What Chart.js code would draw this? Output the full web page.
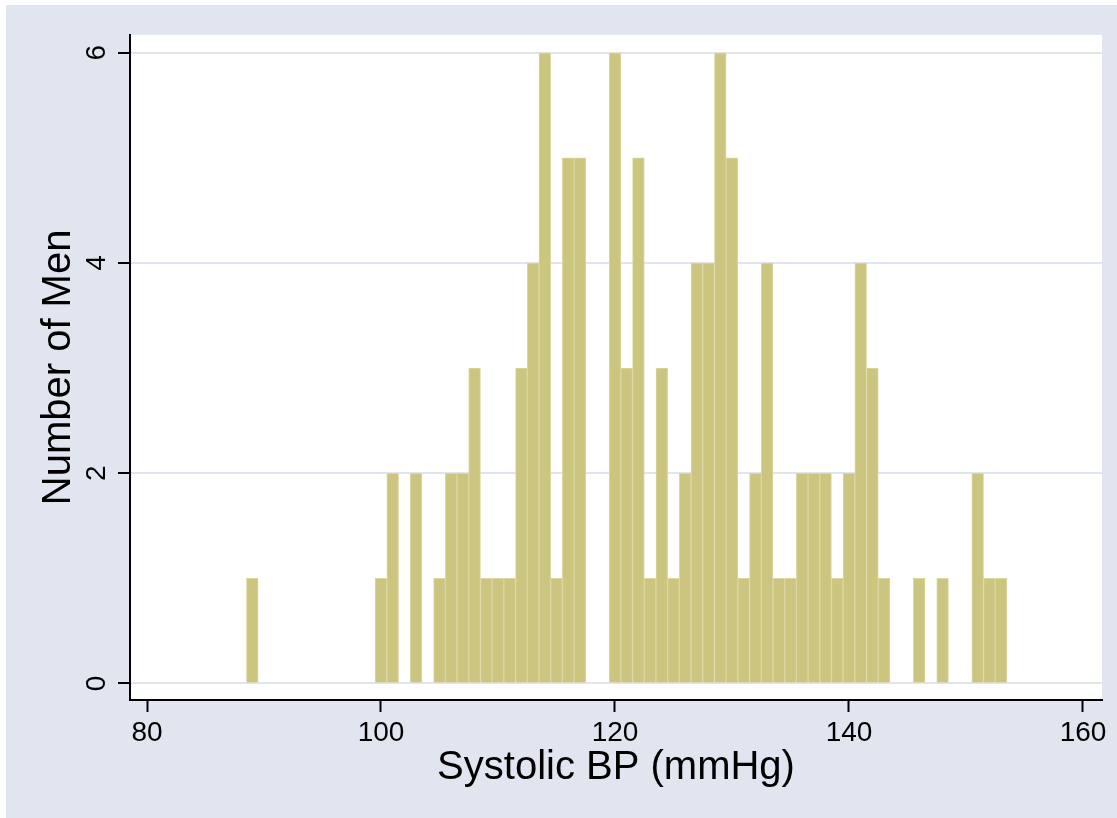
<!DOCTYPE html>
<html lang="en">
<head>
  <meta charset="UTF-8">
  <title>Systolic BP Histogram</title>
  <script src="https://cdn.jsdelivr.net/npm/chart.js"></script>
  <style>
    html, body {
      margin: 0;
      padding: 0;
      background: #ffffff;
    }
    #chart-container {
      position: absolute;
      left: 6px;
      top: 5px;
      width: 1111px;
      height: 813px;
      background: #e1e5ef;
    }
  </style>
</head>
<body>
  <div id="chart-container">
    <canvas id="bpChart"></canvas>
  </div>

  <script>
    // systolic BP values (mmHg) and number of men at each value
    const bpValues = [89, 100, 101, 103, 105, 106, 107, 108, 109, 110, 111, 112, 113, 114, 115, 116, 117,
                      120, 121, 122, 123, 124, 125, 126, 127, 128, 129, 130, 131, 132, 133, 134, 135, 136,
                      137, 138, 139, 140, 141, 142, 143, 146, 148, 151, 152, 153];
    const menCounts = [1, 1, 2, 2, 1, 2, 2, 3, 1, 1, 1, 3, 4, 6, 1, 5, 5,
                       6, 3, 5, 1, 3, 1, 2, 4, 4, 6, 5, 1, 2, 4, 1, 1, 2,
                       2, 2, 1, 2, 4, 3, 1, 1, 1, 2, 1, 1];
    const xTicks = [80, 100, 120, 140, 160];
    const yTicks = [0, 2, 4, 6];

    const fontFamily = '"Liberation Sans", Arial, Helvetica, sans-serif';

    // white plot region like Stata's
    const plotBackground = {
      id: 'plotBackground',
      beforeDraw(chart) {
        const { ctx, chartArea } = chart;
        ctx.save();
        ctx.fillStyle = '#ffffff';
        ctx.fillRect(chartArea.left, chartArea.top, chartArea.right - chartArea.left, chartArea.bottom - chartArea.top);
        ctx.restore();
      }
    };

    const ctx = document.getElementById('bpChart').getContext('2d');
    new Chart(ctx, {
      type: 'bar',
      data: {
        datasets: [{
          label: 'Number of Men',
          data: bpValues.map((v, i) => ({ x: v, y: menCounts[i] })),
          backgroundColor: '#cbc57f',
          borderColor: '#dbd7a2',
          borderWidth: 1,
          barPercentage: 1,
          categoryPercentage: 1
        }]
      },
      options: {
        responsive: true,
        maintainAspectRatio: false,
        animation: false,
        layout: {
          padding: { top: 29, right: 15, left: 0, bottom: 0 }
        },
        plugins: {
          legend: { display: false },
          tooltip: { enabled: false }
        },
        scales: {
          x: {
            type: 'linear',
            offset: false,
            min: 78.547,
            max: 161.624,
            afterBuildTicks: (scale) => { scale.ticks = xTicks.map(v => ({ value: v })); },
            afterFit: (scale) => { scale.height = 118; },
            grid: {
              offset: false,
              drawOnChartArea: false,
              drawTicks: true,
              tickLength: 12,
              tickWidth: 2,
              tickColor: '#000000'
            },
            border: { color: '#000000', width: 2 },
            ticks: {
              color: '#000000',
              padding: 4,
              maxRotation: 0,
              font: { family: fontFamily, size: 28 }
            },
            title: {
              display: true,
              text: 'Systolic BP (mmHg)',
              color: '#000000',
              padding: { top: 0, bottom: 26 },
              font: { family: fontFamily, size: 40 }
            }
          },
          y: {
            min: -0.157,
            max: 6.171,
            afterBuildTicks: (scale) => { scale.ticks = yTicks.map(v => ({ value: v })); },
            afterFit: (scale) => { scale.width = 124; },
            grid: {
              color: '#e0e4ef',
              lineWidth: 2,
              drawTicks: true,
              tickLength: 12,
              tickWidth: 2,
              tickColor: '#000000'
            },
            border: { color: '#000000', width: 2 },
            ticks: {
              color: '#000000',
              padding: 13,
              minRotation: 90,
              maxRotation: 90,
              crossAlign: 'center',
              font: { family: fontFamily, size: 28 }
            },
            title: {
              display: true,
              text: 'Number of Men',
              color: '#000000',
              padding: { top: 29, bottom: 0 },
              font: { family: fontFamily, size: 40 }
            }
          }
        }
      },
      plugins: [plotBackground]
    });
  </script>
</body>
</html>
